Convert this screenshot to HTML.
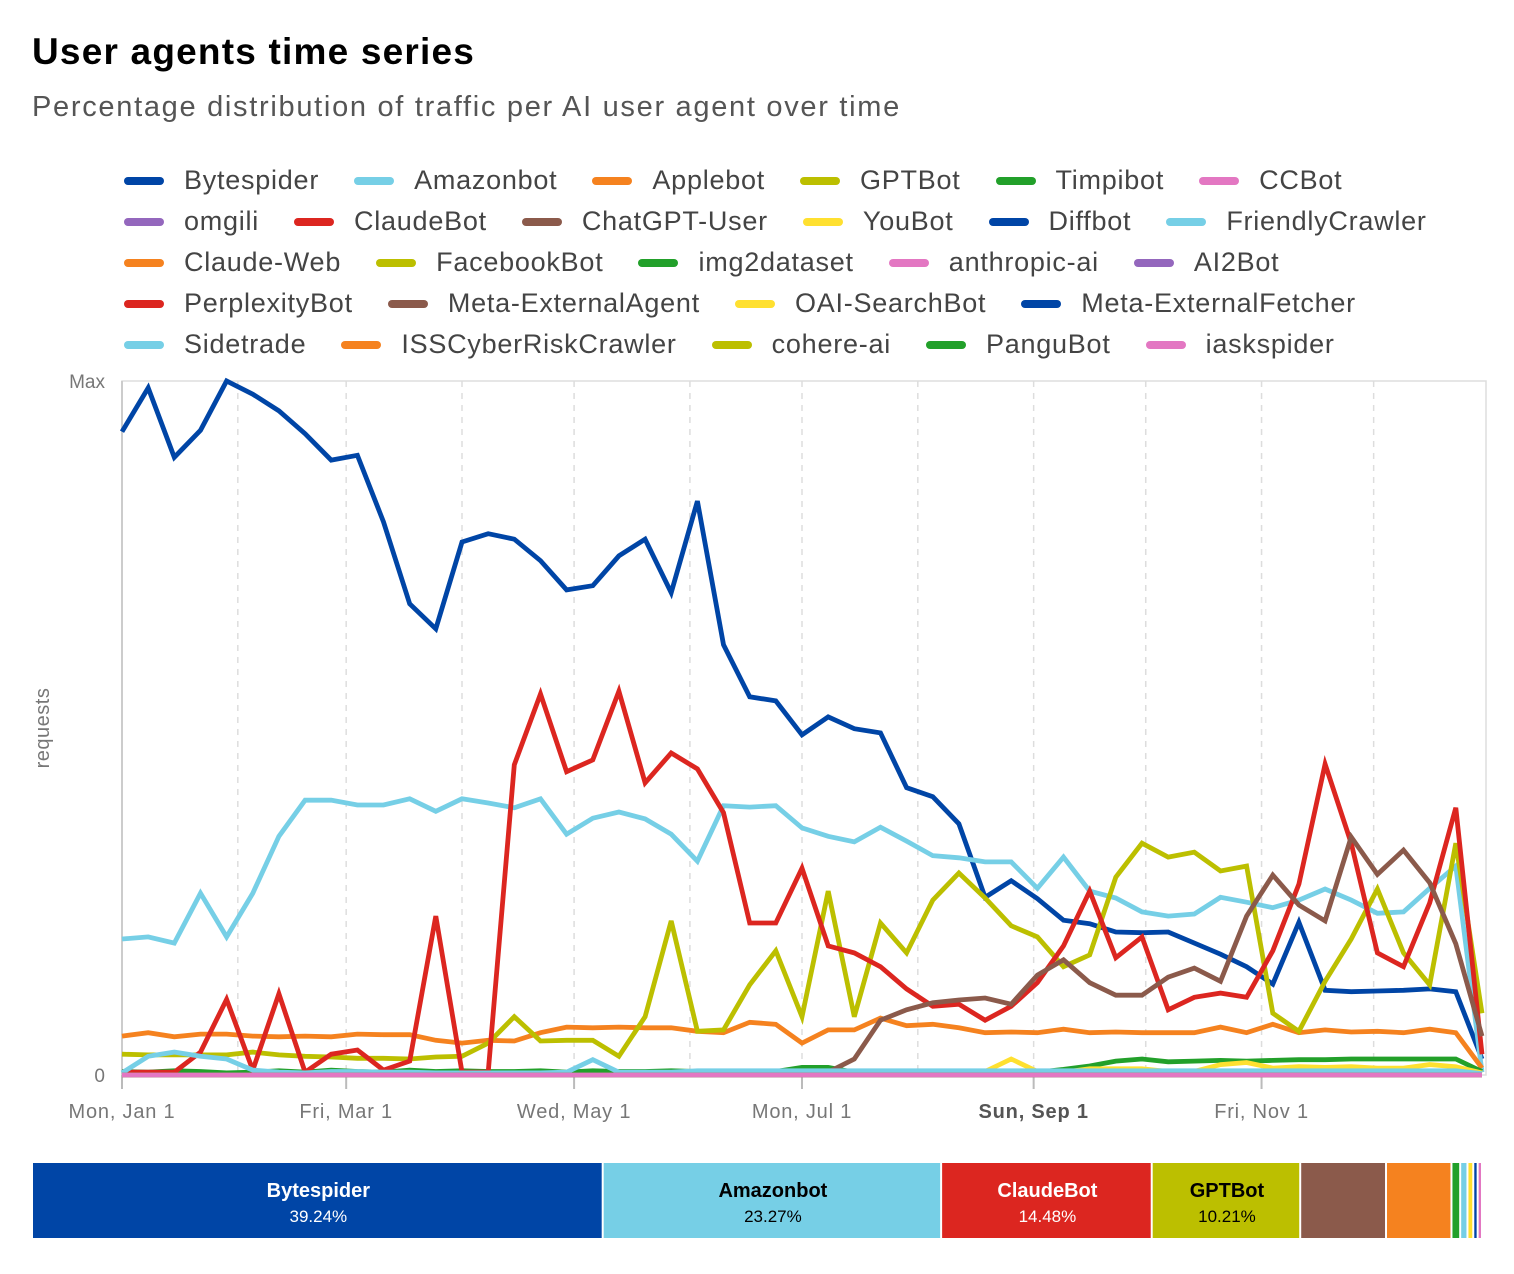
<!DOCTYPE html>
<html><head><meta charset="utf-8">
<style>
body{margin:0;background:#fff;font-family:"Liberation Sans",sans-serif;}
#wrap{position:relative;width:1514px;height:1274px;overflow:hidden;}
h1{position:absolute;left:32px;top:31px;margin:0;font-size:37px;font-weight:bold;color:#000;letter-spacing:1.2px;}
.sub{position:absolute;left:32px;top:91px;font-size:29px;color:#555;letter-spacing:1.7px;}
.lrow{position:absolute;left:124px;display:flex;font-size:27px;letter-spacing:0.75px;color:#444;white-space:nowrap;}
.li{display:flex;align-items:center;margin-right:35px;}
.sw{width:40px;height:8px;border-radius:4px;margin-right:20px;}
svg text{font-family:"Liberation Sans",sans-serif;}
</style></head><body>
<div id="wrap">
<h1>User agents time series</h1>
<div class="sub">Percentage distribution of traffic per AI user agent over time</div>
<div id="legend"></div>
<svg id="chart" width="1514" height="1274" style="position:absolute;left:0;top:0"></svg>
</div>
<script>
const names=["Bytespider","Amazonbot","Applebot","GPTBot","Timpibot","CCBot","omgili","ClaudeBot","ChatGPT-User","YouBot","Diffbot","FriendlyCrawler","Claude-Web","FacebookBot","img2dataset","anthropic-ai","AI2Bot","PerplexityBot","Meta-ExternalAgent","OAI-SearchBot","Meta-ExternalFetcher","Sidetrade","ISSCyberRiskCrawler","cohere-ai","PanguBot","iaskspider"];
const colors=["#0045a6","#76cfe6","#f5821f","#bcbf00","#22a02a","#e377c2","#9467bd","#dc2620","#8b5a4b","#ffe030"];
const legendRows=[6,6,5,4,5];
const bytespider=[92.7,99.0,89.0,92.9,100,98.1,95.7,92.4,88.6,89.3,79.7,67.9,64.3,76.8,78.0,77.2,74.1,69.9,70.5,74.8,77.2,69.5,82.7,62.0,54.5,53.9,49.0,51.6,49.9,49.3,41.4,40.1,36.2,25.6,28.0,25.4,22.3,21.8,20.6,20.5,20.6,19.0,17.4,15.6,13.1,22.0,12.2,12.0,12.1,12.2,12.4,12.0,2.3];
const amazonbot=[19.6,19.9,19.0,26.2,19.9,26.2,34.4,39.6,39.6,38.9,38.9,39.8,38.0,39.8,39.2,38.5,39.8,34.7,37.0,37.9,36.9,34.7,30.8,38.8,38.6,38.8,35.6,34.4,33.6,35.7,33.7,31.6,31.3,30.7,30.7,26.9,31.4,26.5,25.5,23.5,22.9,23.2,25.6,24.9,24.1,25.2,26.8,25.2,23.3,23.5,26.9,30.1,0.4];
const applebot=[5.6,6.1,5.5,5.9,5.9,5.6,5.5,5.6,5.5,5.9,5.8,5.8,5.0,4.6,5.0,4.9,6.1,6.9,6.8,6.9,6.8,6.8,6.3,6.1,7.6,7.3,4.6,6.5,6.5,8.2,7.1,7.3,6.8,6.1,6.2,6.1,6.6,6.1,6.2,6.1,6.1,6.1,6.9,6.1,7.3,6.1,6.5,6.2,6.3,6.1,6.6,6.1,1.0];
const gptbot=[3.0,2.9,2.9,2.9,2.9,3.3,2.9,2.7,2.6,2.4,2.4,2.3,2.6,2.7,4.6,8.4,4.9,5.0,5.0,2.7,8.4,22.2,6.3,6.5,13.0,17.9,8.4,26.5,8.4,21.9,17.6,25.2,29.1,25.5,21.5,19.9,15.6,17.3,28.5,33.4,31.4,32.1,29.4,30.1,8.9,6.3,13.5,19.6,26.8,17.6,13.0,33.4,8.9];
const timpibot=[0.5,0.4,0.6,0.5,0.3,0.4,0.6,0.4,0.7,0.5,0.4,0.7,0.5,0.6,0.5,0.5,0.6,0.4,0.6,0.5,0.5,0.6,0.5,0.5,0.5,0.5,1.1,1.1,0.4,0.4,0.4,0.4,0.4,0.4,0.4,0.4,0.8,1.3,2.0,2.3,1.9,2.0,2.1,2.0,2.1,2.2,2.2,2.3,2.3,2.3,2.3,2.3,0.5];
const claudebot=[0.4,0.4,0.4,3.3,10.9,0.7,11.7,0.4,3.0,3.6,0.7,2.0,22.9,0.4,0.4,44.7,54.9,43.7,45.4,55.3,42.1,46.4,44.1,37.8,21.9,21.9,29.8,18.6,17.6,15.6,12.4,9.9,10.2,7.9,9.9,13.3,18.6,26.5,16.9,19.9,9.4,11.2,11.8,11.2,17.9,27.5,44.8,33.4,17.6,15.6,24.8,38.5,3.0];
const chatgptUser=[0,0,0,0,0,0,0,0,0,0,0,0,0,0,0,0,0,0,0,0,0,0,0,0,0,0,0,0.4,2.3,7.9,9.4,10.4,10.8,11.1,10.2,14.4,16.6,13.3,11.5,11.5,14.1,15.4,13.5,22.9,28.8,24.5,22.2,34.3,28.9,32.4,27.7,18.9,5.6];
const youbot=[0,0,0,0,0,0,0,0,0,0,0,0,0,0,0,0,0,0,0,0,0,0,0,0,0,0,0,0,0,0,0.3,0.5,0.5,0.5,2.3,0.5,0.4,0.9,0.9,0.9,0.5,0.5,1.5,1.8,1.0,1.2,1.1,1.2,1.0,1.0,1.5,1.2,0.3];
const friendly=[0.3,2.7,3.3,2.7,2.3,0.7,0.4,0.3,0.5,0.5,0.4,0.4,0.3,0.3,0.3,0.3,0.3,0.4,2.2,0.4,0.4,0.4,0.6,0.6,0.6,0.6,0.6,0.6,0.6,0.6,0.6,0.6,0.6,0.6,0.6,0.6,0.6,0.6,0.6,0.6,0.6,0.6,0.6,0.6,0.6,0.6,0.6,0.6,0.6,0.6,0.6,0.6,0.2];
const zeros=new Array(53).fill(0);
const seriesData={"Bytespider":bytespider,"Amazonbot":amazonbot,"Applebot":applebot,"GPTBot":gptbot,"Timpibot":timpibot,"ClaudeBot":claudebot,"ChatGPT-User":chatgptUser,"YouBot":youbot,"FriendlyCrawler":friendly};
const xTickLabels=["Mon, Jan 1","Fri, Mar 1","Wed, May 1","Mon, Jul 1","Sun, Sep 1","Fri, Nov 1"];
const xTickDays=[0,60,121,182,244,305];
const gridDays=[31,60,91,121,152,182,213,244,274,305,335];
const shareNames=["Bytespider","Amazonbot","ClaudeBot","GPTBot","ChatGPT-User","Applebot","Timpibot","FriendlyCrawler","YouBot","Diffbot","CCBot"];
const shareValues=[39.24,23.27,14.48,10.21,5.9,4.5,0.6,0.5,0.4,0.3,0.3];

const lg=document.getElementById('legend');
let k=0;
legendRows.forEach((n,r)=>{
  const row=document.createElement('div');row.className='lrow';row.style.top=(165+r*41)+'px';
  
  
  for(let j=0;j<n;j++,k++){
    const it=document.createElement('div');it.className='li';
    
    
    it.innerHTML='<span class="sw" style="background:'+colors[k%10]+'"></span><span>'+names[k]+'</span>';
    row.appendChild(it);
  }
  lg.appendChild(row);
});

const NS='http://www.w3.org/2000/svg';
const svg=document.getElementById('chart');
const L=122,R=1486,T=381,B=1075,pxDay=(1482-122)/364;
const xd=d=>L+d*pxDay;
const xi=i=>xd(i*7);
const yv=v=>B-(B-T)*v/100;
function mk(tag,attrs,name,inter){const e=document.createElementNS(NS,tag);for(const a in attrs)e.setAttribute(a,attrs[a]);


svg.appendChild(e);return e;}
mk('rect',{x:L,y:T,width:R-L,height:B-T,fill:'none',stroke:'#ddd','stroke-width':1.5},'plot-area',false);
gridDays.forEach(d=>{mk('line',{x1:xd(d),x2:xd(d),y1:T,y2:B,stroke:'#ddd','stroke-width':1.5,'stroke-dasharray':'6,6'},'x-gridline',false);});
mk('line',{x1:L,x2:L,y1:T,y2:B+10,stroke:'#ccc','stroke-width':2},'y-axis-line',false);
xTickDays.forEach((d,i)=>{
  mk('line',{x1:xd(d),x2:xd(d),y1:B,y2:B+14,stroke:'#bbb','stroke-width':2},'x-tick',false);
  const t=mk('text',{x:xd(d),y:1118,'text-anchor':'middle','font-size':20,'letter-spacing':0.8,fill:i==4?'#555':'#777','font-weight':i==4?'bold':'normal'},'x-tick-label',false);
  t.textContent=xTickLabels[i];
});
let t=mk('text',{x:105,y:388,'text-anchor':'end','font-size':19,fill:'#777'},'y-tick-max',false);t.textContent='Max';
t=mk('text',{x:105,y:1082,'text-anchor':'end','font-size':19,fill:'#777'},'y-tick-zero',false);t.textContent='0';
t=mk('text',{x:49,y:728,'text-anchor':'middle','font-size':20,'letter-spacing':0.5,fill:'#777',transform:'rotate(-90 49 728)'},'y-axis-title',false);t.textContent='requests';
names.forEach((n,idx)=>{
  const data=seriesData[n]||zeros;
  const pts=data.map((v,i)=>xi(i).toFixed(1)+','+yv(v).toFixed(1)).join(' ');
  mk('polyline',{points:pts,fill:'none',stroke:colors[idx%10],'stroke-width':4.8,'stroke-linejoin':'miter'},'series-'+n.toLowerCase(),true);
});
const BX=33,BW=1450,BY=1163,BH=75;
const tot=shareValues.reduce((a,b)=>a+b,0);
let cx=BX;
shareNames.forEach((n,i)=>{
  const w=BW*shareValues[i]/tot;
  const ci=names.indexOf(n);
  mk('rect',{x:cx,y:BY,width:Math.max(w-2,0.5),height:BH,fill:colors[ci%10]},'share-segment-'+n.toLowerCase(),true);
  if(shareValues[i]>8){
    const dark=(n=="Amazonbot"||n=="GPTBot");
    const c=dark?'#000':'#fff';
    let a=mk('text',{x:cx+w/2,y:BY+34,'text-anchor':'middle','font-size':20,'font-weight':'bold',fill:c},'share-label',false);a.textContent=n;
    a=mk('text',{x:cx+w/2,y:BY+59,'text-anchor':'middle','font-size':17,fill:c},'share-percent',false);a.textContent=shareValues[i].toFixed(2)+'%';
  }
  cx+=w;
});
</script>
</body></html>
